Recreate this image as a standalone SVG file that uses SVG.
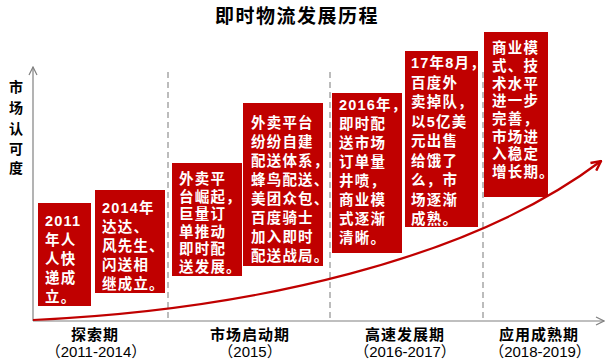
<svg xmlns="http://www.w3.org/2000/svg" width="609" height="359" viewBox="0 0 609 359">
<style>
.bx{fill:#C00000}
.bt{fill:#fff;font-family:"Liberation Sans","Noto Sans CJK SC",sans-serif;font-weight:bold;font-size:14.5px;letter-spacing:1.2px;dominant-baseline:central}
.lb{fill:#000;font-family:"Noto Sans CJK SC",sans-serif;font-weight:bold;font-size:15px;letter-spacing:1px;text-anchor:middle;dominant-baseline:central}
.yr{fill:#000;font-family:"Liberation Sans","Noto Sans CJK SC",sans-serif;font-size:15px;text-anchor:middle;dominant-baseline:central}
.ax{stroke:#808080;stroke-width:1.2;fill:none}
.ds{stroke:#a6a6a6;stroke-width:1.5;stroke-dasharray:6 4;fill:none}
</style>
<defs>
<marker id="ga" viewBox="0 0 10 10" refX="9" refY="5" markerWidth="10" markerHeight="10" markerUnits="userSpaceOnUse" orient="auto">
<path d="M1 1 L9 5 L1 9" fill="none" stroke="#808080" stroke-width="1.2"/>
</marker>
<marker id="ra" viewBox="0 0 10 10" refX="9" refY="5" markerWidth="12" markerHeight="12" markerUnits="userSpaceOnUse" orient="auto">
<path d="M1 1 L9 5 L1 9" fill="none" stroke="#C00000" stroke-width="2"/>
</marker>
</defs>
<rect width="609" height="359" fill="#fff"/>
<text x="297" y="14" style="font-family:'Noto Sans CJK SC',sans-serif;font-weight:bold;font-size:19px;letter-spacing:1.5px;dominant-baseline:central" text-anchor="middle">即时物流发展历程</text>
<g id="ylabel" style="font-family:'Noto Sans CJK SC',sans-serif;font-weight:bold;font-size:14px" text-anchor="middle" dominant-baseline="central">
<text x="16" y="86">市</text><text x="16" y="107">场</text><text x="16" y="128">认</text><text x="16" y="148">可</text><text x="16" y="167">度</text>
</g>
<g id="connectors">
<line class="ax" x1="33" y1="321" x2="33" y2="67" marker-end="url(#ga)"/>
<line class="ax" x1="33" y1="321" x2="604" y2="321" marker-end="url(#ga)"/>
<line class="ds" x1="168" y1="72" x2="168" y2="321"/>
<line class="ds" x1="330" y1="72" x2="330" y2="321"/>
<line class="ds" x1="483" y1="72" x2="483" y2="321"/>
<path d="M33 320 C250 310 470 260 601 161" fill="none" stroke="#C00000" stroke-width="2.2" marker-end="url(#ra)"/>
</g>
<g id="box1">
<rect class="bx" x="38" y="203" width="53" height="103"/>
<text class="bt" x="45" y="221">2011</text>
<text class="bt" x="45" y="240">年人</text>
<text class="bt" x="45" y="259">人快</text>
<text class="bt" x="45" y="278">递成</text>
<text class="bt" x="45" y="297">立。</text>
</g>
<g id="box2">
<rect class="bx" x="95" y="190" width="70" height="103"/>
<text class="bt" x="102" y="208">2014年</text>
<text class="bt" x="102" y="227">达达、</text>
<text class="bt" x="102" y="246">风先生、</text>
<text class="bt" x="102" y="265">闪送相</text>
<text class="bt" x="102" y="284">继成立。</text>
</g>
<g id="box3">
<rect class="bx" x="172" y="163" width="70" height="113"/>
<text class="bt" x="179" y="179">外卖平</text>
<text class="bt" x="179" y="196.5">台崛起，</text>
<text class="bt" x="179" y="214">巨量订</text>
<text class="bt" x="179" y="231.5">单推动</text>
<text class="bt" x="179" y="249">即时配</text>
<text class="bt" x="179" y="266.5">送发展。</text>
</g>
<g id="box4">
<rect class="bx" x="243" y="103" width="80" height="163"/>
<text class="bt" x="251" y="123">外卖平台</text>
<text class="bt" x="251" y="142">纷纷自建</text>
<text class="bt" x="251" y="161">配送体系，</text>
<text class="bt" x="251" y="180">蜂鸟配送、</text>
<text class="bt" x="251" y="199">美团众包、</text>
<text class="bt" x="251" y="218">百度骑士</text>
<text class="bt" x="251" y="237">加入即时</text>
<text class="bt" x="251" y="256">配送战局。</text>
</g>
<g id="box5">
<rect class="bx" x="332" y="93" width="70" height="160"/>
<text class="bt" x="339" y="105">2016年，</text>
<text class="bt" x="339" y="124">即时配</text>
<text class="bt" x="339" y="143">送市场</text>
<text class="bt" x="339" y="162">订单量</text>
<text class="bt" x="339" y="181">井喷，</text>
<text class="bt" x="339" y="200">商业模</text>
<text class="bt" x="339" y="219">式逐渐</text>
<text class="bt" x="339" y="238">清晰。</text>
</g>
<g id="box6">
<rect class="bx" x="405" y="51" width="73" height="176"/>
<text class="bt" x="411" y="63">17年8月，</text>
<text class="bt" x="411" y="82.5">百度外</text>
<text class="bt" x="411" y="102">卖掉队，</text>
<text class="bt" x="411" y="121.5">以5亿美</text>
<text class="bt" x="411" y="141">元出售</text>
<text class="bt" x="411" y="160.5">给饿了</text>
<text class="bt" x="411" y="180">么，市</text>
<text class="bt" x="411" y="199.5">场逐渐</text>
<text class="bt" x="411" y="219">成熟。</text>
</g>
<g id="box7">
<rect class="bx" x="484" y="32" width="64" height="165"/>
<text class="bt" x="492" y="48">商业模</text>
<text class="bt" x="492" y="66">式、技</text>
<text class="bt" x="492" y="83.5">术水平</text>
<text class="bt" x="492" y="101">进一步</text>
<text class="bt" x="492" y="118.5">完善，</text>
<text class="bt" x="492" y="136.5">市场进</text>
<text class="bt" x="492" y="154">入稳定</text>
<text class="bt" x="492" y="172">增长期。</text>
</g>
<g id="stage1"><text class="lb" x="95" y="333">探索期</text><text class="yr" x="96" y="351">（2011-2014）</text></g>
<g id="stage2"><text class="lb" x="250" y="333">市场启动期</text><text class="yr" x="250" y="351">（2015）</text></g>
<g id="stage3"><text class="lb" x="405" y="333">高速发展期</text><text class="yr" x="405" y="351">（2016-2017）</text></g>
<g id="stage4"><text class="lb" x="539" y="333">应用成熟期</text><text class="yr" x="540" y="351">（2018-2019）</text></g>
</svg>
